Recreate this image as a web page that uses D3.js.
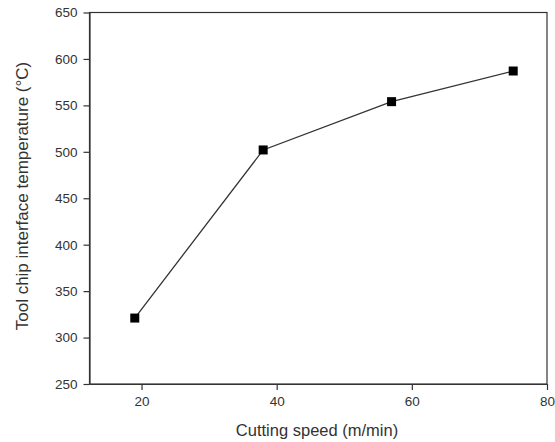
<!DOCTYPE html>
<html>
<head>
<meta charset="utf-8">
<script src="https://cdn.jsdelivr.net/npm/d3@7"></script>
<style>
  body { margin: 0; background: #fff; }
  text { font-family: "Liberation Sans", Arial, sans-serif; fill: #333; }
</style>
</head>
<body>
<div id="chart"></div>
<script>
var speed = [19, 38, 57, 75];
var temperature = [321, 502, 554, 587];
var xTicks = [20, 40, 60, 80];
var yTicks = [250, 300, 350, 400, 450, 500, 550, 600, 650];

var width = 555, height = 442;
var margin = {top: 12.5, right: 8, bottom: 58, left: 89.5};
var w = width - margin.left - margin.right,
    h = height - margin.top - margin.bottom;

var svg = d3.select('#chart').append('svg')
    .attr('width', width).attr('height', height);
var g = svg.append('g')
    .attr('transform', 'translate(' + margin.left + ',' + margin.top + ')');

var x = d3.scaleLinear().domain([12.3, 80]).range([0, w]);
var y = d3.scaleLinear().domain([250, 650]).range([h, 0]);

// frame
g.append('rect').attr('width', w).attr('height', h)
    .attr('fill', 'none').attr('stroke', '#333').attr('stroke-width', 1.2);

var xAxis = g.append('g').attr('transform', 'translate(0,' + h + ')')
    .call(d3.axisBottom(x).tickValues(xTicks).tickSize(6).tickPadding(6).tickSizeOuter(0));
var yAxis = g.append('g')
    .call(d3.axisLeft(y).tickValues(yTicks).tickSize(6).tickPadding(6).tickSizeOuter(0));

[xAxis, yAxis].forEach(function(a) {
  a.select('.domain').attr('stroke', '#333').attr('stroke-width', 1.2);
  a.selectAll('.tick line').attr('stroke', '#333').attr('stroke-width', 1.2);
  a.selectAll('.tick text').style('font-size', '13.5px').attr('fill', '#333')
   .style('font-family', '"Liberation Sans", Arial, sans-serif');
});

var pts = speed.map(function(s, i) { return [s, temperature[i]]; });

g.append('path').datum(pts)
    .attr('fill', 'none').attr('stroke', '#333').attr('stroke-width', 1.3)
    .attr('d', d3.line().x(function(d) { return x(d[0]); }).y(function(d) { return y(d[1]); }));

g.selectAll('.pt').data(pts).enter().append('rect')
    .attr('class', 'pt')
    .attr('x', function(d) { return x(d[0]) - 4.5; })
    .attr('y', function(d) { return y(d[1]) - 4.5; })
    .attr('width', 9).attr('height', 9)
    .attr('fill', '#000');

svg.append('text')
    .attr('x', 317).attr('y', 436)
    .attr('text-anchor', 'middle').style('font-size', '16.5px')
    .text('Cutting speed (m/min)');

svg.append('text')
    .attr('transform', 'translate(28,196) rotate(-90)')
    .attr('text-anchor', 'middle').style('font-size', '17px')
    .text('Tool chip interface temperature (°C)');
</script>
</body>
</html>
